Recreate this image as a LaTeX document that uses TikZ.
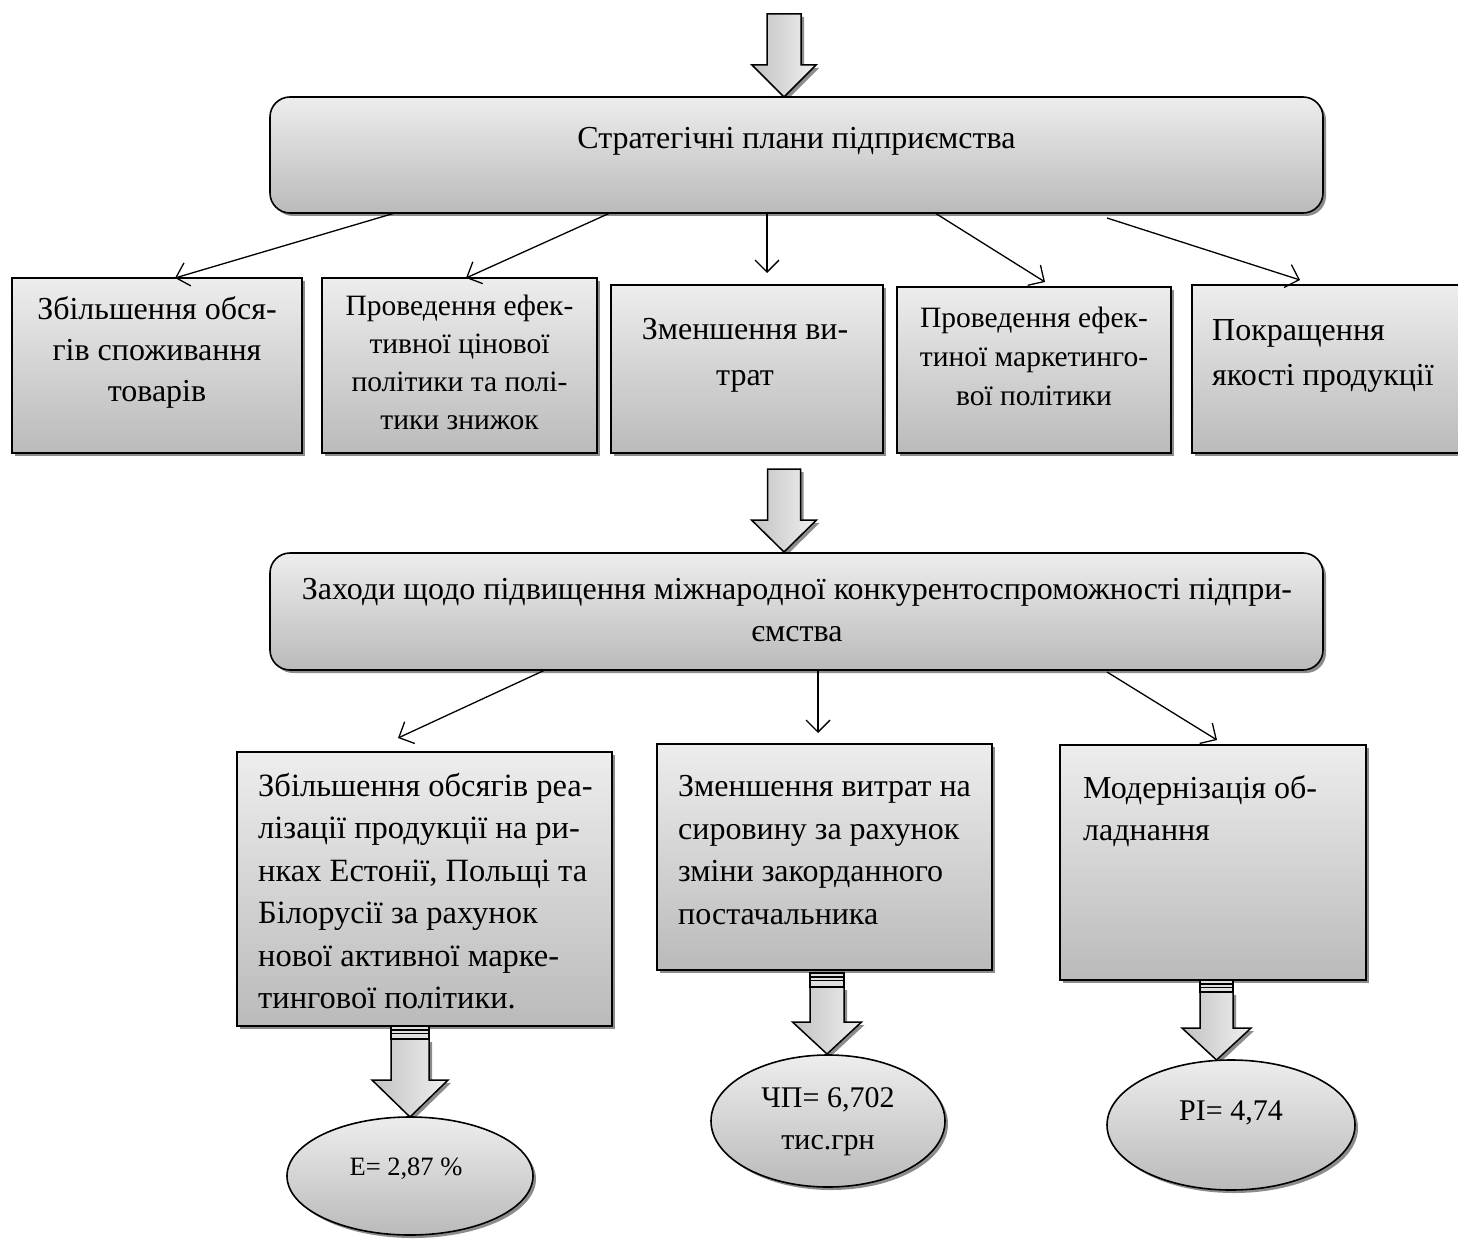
\documentclass[tikz,border=0pt]{standalone}
\usepackage{fontspec}
\setmainfont{Liberation Serif}
\usetikzlibrary{shapes.geometric,shadows,arrows.meta}
\tikzset{
  shade3/.style={top color=black!7, bottom color=black!27},
  shad/.style={drop shadow={shadow xshift=3pt,shadow yshift=-3pt,fill=black!45,opacity=1}},
  gbox/.style={draw=black, line width=1.6pt, shade3, shad, inner sep=0pt},
  rbox/.style={gbox, rectangle, rounded corners=20pt},
  sbox/.style={gbox, rectangle},
  ebox/.style={gbox, ellipse},
  conn/.style={line width=1.3pt, -{Straight Barb[length=12pt,width=24pt,line width=1.3pt]}},
  txt/.style={inner sep=0pt, font=\fontsize{32}{41}\selectfont},
  barrow/.style={draw=black, line width=1.5pt, left color=black!24, right color=black!6, shad},
  stripe/.style={draw=black, line width=1.3pt, fill=black!12},
}
\newcommand\blkarrow[6]{% x, ytop, yhead, ytip, shaft half, head half
  \draw[barrow] ({#1-#5},#2) -- ({#1+#5},#2) -- ({#1+#5},#3) -- ({#1+#6},#3) -- (#1,#4)
    -- ({#1-#6},#3) -- ({#1-#5},#3) -- cycle;}
\newcommand\stripebar[4]{% xl, xr, ytop, ybot
  \draw[stripe] (#1,#3) rectangle (#2,#4);
  \draw[line width=1.1pt] (#1,{#3+4}) -- (#2,{#3+4});
  \draw[line width=1.1pt] (#1,{#3+7.5}) -- (#2,{#3+7.5});}
\begin{document}
\begin{tikzpicture}[x=1pt,y=-1pt]
\useasboundingbox[fill=white] (0,0) rectangle (1458,1241);

% top block arrow
\blkarrow{784}{14}{65}{97}{17}{32}

% top rounded box
\node[rbox, minimum width=1053pt, minimum height=116pt] (top) at (796.5,155) {};
\node[txt] (toptxt) at (796.5,141) {Стратегічні плани підприємства};

% five boxes
\node[sbox, minimum width=290pt, minimum height=175pt] (b1) at (157,365.5) {};
\node[sbox, minimum width=275pt, minimum height=175pt] (b2) at (459.5,365.5) {};
\node[sbox, minimum width=272pt, minimum height=168pt] (b3) at (747,369) {};
\node[sbox, minimum width=274pt, minimum height=166pt] (b4) at (1034,370) {};
\node[sbox, minimum width=278pt, minimum height=168pt] (b5) at (1331,369) {};

\node[txt, align=center] (t1) at (157,352) {Збільшення обся-\\гів споживання\\товарів};
\node[txt, align=center, font=\fontsize{29.5}{38}\selectfont] (t2) at (459.5,362) {Проведення ефек-\\тивної цінової\\політики та полі-\\тики знижок};
\node[txt, align=center, font=\fontsize{32}{46}\selectfont] (t3) at (745,355) {Зменшення ви-\\трат};
\node[txt, align=center, font=\fontsize{29.5}{39}\selectfont] (t4) at (1034,356) {Проведення ефек-\\тиної маркетинго-\\вої політики};
\node[txt, align=left, anchor=west, font=\fontsize{32}{45}\selectfont] (t5) at (1212,356) {Покращення\\якості продукції};

% connectors from top box
\coordinate (s1) at (395,213);  \coordinate (e1) at (175,278);
\coordinate (s2) at (610,213);  \coordinate (e2) at (466,278);
\coordinate (s3) at (767,213);  \coordinate (e3) at (767,273);
\coordinate (s4) at (935,213);  \coordinate (e4) at (1045,282);
\coordinate (s5) at (1107,218); \coordinate (e5) at (1300,280);
\draw[conn] (s1) -- (e1);
\draw[conn] (s2) -- (e2);
\draw[conn] (s3) -- (e3);
\draw[conn] (s4) -- (e4);
\draw[conn] (s5) -- (e5);

% middle block arrow
\blkarrow{784}{469}{520}{552}{16.5}{32.5}

% middle rounded box
\node[rbox, minimum width=1053pt, minimum height=117pt] (mid) at (796.5,611.5) {};
\node[txt, align=center, font=\fontsize{32}{42}\selectfont] (midtxt) at (797,610) {Заходи щодо підвищення міжнародної конкурентоспроможності підпри-\\ємства};

% bottom boxes
\node[sbox, minimum width=375pt, minimum height=274pt] (bA) at (424.5,889) {};
\node[sbox, minimum width=335pt, minimum height=226pt] (bB) at (824.5,857) {};
\node[sbox, minimum width=306pt, minimum height=235pt] (bC) at (1213,862.5) {};

\node[txt, align=left, anchor=west, font=\fontsize{32.5}{42.5}\selectfont] (tA) at (258,891) {Збільшення обсягів реа-\\лізації продукції на ри-\\нках Естонії, Польщі та\\Білорусії за рахунок\\нової активної марке-\\тингової політики.};
\node[txt, align=left, anchor=west, font=\fontsize{32}{42.5}\selectfont] (tB) at (678,850) {Зменшення витрат на\\сировину за рахунок\\зміни закорданного\\постачальника};
\node[txt, align=left, anchor=west, font=\fontsize{32}{42}\selectfont] (tC) at (1083,811) {Модернізація об-\\ладнання};

% connectors from middle box
\coordinate (m1s) at (545,670);  \coordinate (m1e) at (398,738);
\coordinate (m2s) at (818,670);  \coordinate (m2e) at (818,733);
\coordinate (m3s) at (1107,672); \coordinate (m3e) at (1217,740);
\draw[conn] (m1s) -- (m1e);
\draw[conn] (m2s) -- (m2e);
\draw[conn] (m3s) -- (m3e);

% striped block arrows
\stripebar{391}{429}{1026}{1039}
\blkarrow{410}{1039}{1080}{1117}{19}{38}
\stripebar{810}{844}{973}{987}
\blkarrow{827}{987}{1022}{1054}{17}{34.5}
\stripebar{1200}{1233}{980}{992}
\blkarrow{1216.5}{992}{1028}{1060}{16.5}{34.5}

% ellipses
\node[ebox, minimum width=246pt, minimum height=118pt] (eA) at (410,1176) {};
\node[ebox, minimum width=234pt, minimum height=132pt] (eB) at (828,1121) {};
\node[ebox, minimum width=248pt, minimum height=130pt] (eC) at (1231,1125) {};
\node[txt, font=\fontsize{26.5}{40}\selectfont] (eAt) at (406,1169) {Е= 2,87 \%};
\node[txt, align=center, font=\fontsize{30}{42}\selectfont] (eBt) at (828,1122) {ЧП= 6,702\\тис.грн};
\node[txt, font=\fontsize{30}{40}\selectfont] (eCt) at (1231,1113) {PI= 4,74};
\end{tikzpicture}
\end{document}
